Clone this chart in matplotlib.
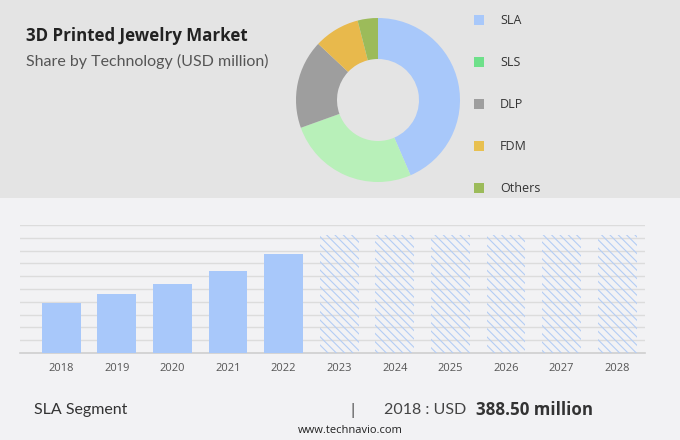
import matplotlib
matplotlib.use("Agg")
import matplotlib.pyplot as plt
from matplotlib.patches import Rectangle
import numpy as np

# donut data (share by technology)
tech = ["SLA", "SLS", "DLP", "FDM", "Others"]
share = [43.5, 26, 17.5, 9, 4]
wedge_colors = ["#a8c8fa", "#b8f0b9", "#9e9e9e", "#e8b94c", "#9cbb5a"]
legend_colors = ["#a8c8fa", "#6ee08a", "#9e9e9e", "#e8c050", "#9cbb5a"]

# bar data (SLA segment, USD million)
years = ["2018", "2019", "2020", "2021", "2022"]
values = [388.5, 463, 539, 643, 773]
fc_years = ["2023", "2024", "2025", "2026", "2027", "2028"]
fc_values = [922, 922, 922, 922, 922, 922]

plt.rcParams["font.family"] = ["Open Sans", "DejaVu Sans"]
plt.rcParams["hatch.linewidth"] = 0.8

W, H = 680, 440
fig = plt.figure(figsize=(6.8, 4.4), dpi=100)
fig.patch.set_facecolor("#f2f2f4")

# top grey panel
fig.add_artist(Rectangle((0, 1 - 198 / H), 1, 198 / H, transform=fig.transFigure,
                         facecolor="#e4e4e4", edgecolor="none", zorder=0))

fig.text(26 / W, 1 - 36 / H, "3D Printed Jewelry Market", fontsize=12.2,
         fontweight="bold", color="#222222", va="center")
fig.text(26 / W, 1 - 61 / H, "Share by Technology (USD million)", fontsize=11.5,
         color="#555555", va="center", family=["Lato", "DejaVu Sans"])

# donut
cx, cy, r = 378, 100, 82
ax1 = fig.add_axes([(cx - r) / W, 1 - (cy + r) / H, 2 * r / W, 2 * r / H])
ax1.pie(share, colors=wedge_colors, startangle=90, counterclock=False,
        wedgeprops=dict(width=0.5, edgecolor="none"))
ax1.set_xlim(-1, 1)
ax1.set_ylim(-1, 1)
ax1.set_aspect("equal")
ax1.axis("off")

# legend
for i, (name, col) in enumerate(zip(tech, legend_colors)):
    y = 20 + i * 42
    fig.add_artist(Rectangle((474 / W, 1 - (y + 5) / H), 10 / W, 10 / H,
                             transform=fig.transFigure, facecolor=col, edgecolor="none"))
    fig.text(500 / W, 1 - y / H, name, fontsize=9, color="#333333", va="center")

# bar chart
ax2 = fig.add_axes([20 / W, 87 / H, 625 / W, 128 / H])
ax2.set_facecolor("none")
x_all = np.arange(len(years) + len(fc_years))
ax2.bar(x_all[:len(years)], values, width=0.7, color="#a8c8fa", zorder=3)
ax2.bar(x_all[len(years):], fc_values, width=0.7, facecolor="none",
        edgecolor="#b4cdf5", hatch="\\\\\\\\", linewidth=0, zorder=3)
ax2.set_xlim(-0.74, 10.5)
ax2.set_ylim(0, 1000)
ax2.set_yticks(np.arange(0, 1001, 100))
ax2.yaxis.grid(True, color="#dcdcdc", linewidth=1, zorder=0)
ax2.set_axisbelow(True)
ax2.set_xticks(x_all)
ax2.set_xticklabels(years + fc_years, fontsize=8, color="#555555")
ax2.tick_params(axis="x", length=0, pad=7)
ax2.tick_params(axis="y", left=False, labelleft=False)
for s in ["top", "right", "left"]:
    ax2.spines[s].set_visible(False)
ax2.spines["bottom"].set_color("#cfcfcf")
ax2.spines["bottom"].set_linewidth(1.2)

# footer
fig.text(34 / W, 1 - 410 / H, "SLA Segment", fontsize=11.5, color="#333333", va="center",
         family=["Lato", "DejaVu Sans"])
fig.text(352 / W, 1 - 410 / H, "|", fontsize=11, color="#333333", va="center", ha="center")
fig.text(384 / W, 1 - 410 / H, "2018 : USD ", fontsize=11.5, color="#444444", va="center",
         family=["Lato", "DejaVu Sans"])
fig.text(476 / W, 1 - 410 / H, "388.50 million", fontsize=12.2, color="#333333",
         fontweight="bold", va="center")
fig.text(350 / W, 1 - 430 / H, "www.technavio.com", fontsize=8, color="#222222",
         va="center", ha="center")

fig.savefig("out.png", dpi=100, facecolor=fig.get_facecolor())
